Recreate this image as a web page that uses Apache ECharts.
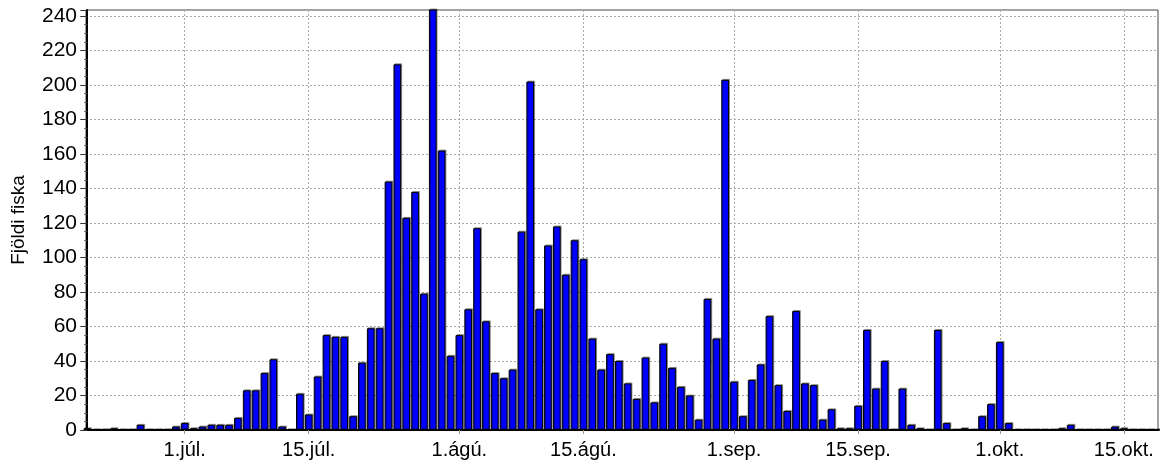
<!DOCTYPE html>
<html>
<head>
<meta charset="utf-8">
<script src="https://cdn.jsdelivr.net/npm/echarts@6/dist/echarts.min.js"></script>
<style>
  html, body { margin: 0; padding: 0; background: #ffffff; }
  #chart { width: 1160px; height: 460px; }
</style>
</head>
<body>
<div id="chart"></div>
<script>
// Daily counts, first entry = 20. júní, last entry = 19. okt.
const firstDay = '20.jún.';
const counts = [
  1, 0, 0, 1, 0, 0, 3, 0, 0, 0, 2,            // 20.jún - 30.jún
  4, 1, 2, 3, 3, 3, 7, 23, 23, 33,            // 1.júl - 10.júl
  41, 2, 0, 21, 9, 31, 55, 54, 54, 8,         // 11.júl - 20.júl
  39, 59, 59, 144, 212, 123, 138, 79, 248, 162, 43, // 21.júl - 31.júl
  55, 70, 117, 63, 33, 30, 35, 115, 202, 70,  // 1.ágú - 10.ágú
  107, 118, 90, 110, 99, 53, 35, 44, 40, 27,  // 11.ágú - 20.ágú
  18, 42, 16, 50, 36, 25, 20, 6, 76, 53, 203, // 21.ágú - 31.ágú
  28, 8, 29, 38, 66, 26, 11, 69, 27, 26,      // 1.sep - 10.sep
  6, 12, 1, 1, 14, 58, 24, 40, 0, 24,         // 11.sep - 20.sep
  3, 1, 0, 58, 4, 0, 1, 0, 8, 15,             // 21.sep - 30.sep
  51, 4, 0, 0, 0, 0, 0, 1, 3, 0,              // 1.okt - 10.okt
  0, 0, 0, 2, 1, 0, 0, 0, 0                   // 11.okt - 19.okt
];
// Tick positions as day offsets from firstDay, and their labels
const tickOffsets = [11, 25, 42, 56, 73, 87, 103, 117];
const tickLabels = ['1.júl.', '15.júl.', '1.ágú.', '15.ágú.', '1.sep.', '15.sep.', '1.okt.', '15.okt.'];
const yTickStep = 20;
const yName = 'Fjöldi fiska';

const seriesData = counts.map((v, i) => [i, v]);

const chart = echarts.init(document.getElementById('chart'), null, { renderer: 'canvas' });
chart.setOption({
  animation: false,
  backgroundColor: '#ffffff',
  grid: {
    left: 86, right: 2, top: 10, bottom: 29,
    show: true, borderColor: '#444', borderWidth: 1, backgroundColor: 'transparent'
  },
  xAxis: {
    type: 'value',
    min: -0.14,
    max: 120.86,
    axisLine: { show: true, onZero: false, lineStyle: { color: '#000', width: 2 } },
    axisTick: {
      show: true, customValues: tickOffsets, length: 4, inside: false,
      lineStyle: { color: '#999', width: 1 }
    },
    axisLabel: {
      show: true, customValues: tickOffsets, margin: 10,
      color: '#000', fontFamily: 'Liberation Sans', fontSize: 20,
      formatter: function (v) {
        const k = tickOffsets.indexOf(Math.round(v));
        return k >= 0 ? tickLabels[k] : '';
      }
    },
    splitLine: { show: true, lineStyle: { color: '#aaa', type: [2, 2], width: 1 } }
  },
  yAxis: {
    type: 'value',
    min: 0,
    max: 243.5,
    interval: yTickStep,
    name: yName,
    nameLocation: 'middle',
    nameGap: 58,
    nameTextStyle: { color: '#000', fontFamily: 'Liberation Sans', fontSize: 19 },
    axisLine: { show: true, lineStyle: { color: '#000', width: 2 } },
    axisTick: { show: true, length: 7, lineStyle: { color: '#333', width: 1 } },
    minorTick: { show: true, splitNumber: 4, length: 3, lineStyle: { color: '#555', width: 1 } },
    axisLabel: {
      show: true, margin: 9, showMaxLabel: false,
      color: '#000', fontFamily: 'Liberation Sans', fontSize: 21,
      formatter: function (v) { return (v % yTickStep === 0) ? String(v) : ''; }
    },
    splitLine: { show: true, lineStyle: { color: '#aaa', type: [2, 2], width: 1 } }
  },
  series: [{
    type: 'bar',
    data: seriesData,
    barWidth: 7.7,
    clip: true,
    itemStyle: {
      color: '#0000ff',
      borderColor: '#000000',
      borderWidth: 1,
      shadowColor: 'rgba(0,0,0,0.35)',
      shadowOffsetX: 1,
      shadowOffsetY: -1,
      shadowBlur: 0
    }
  }]
});
</script>
</body>
</html>
